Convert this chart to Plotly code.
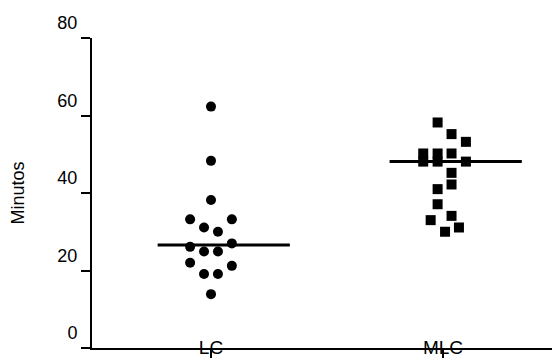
import numpy as np
import plotly.graph_objects as go

categories = ["LC", "MLC"]
lc_values = [62.3, 48.3, 38.2, 33.2, 33.2, 31.1, 30.0, 26.1, 27.0, 24.9, 24.9, 22.0, 21.2, 19.1, 19.1, 13.9]
lc_jitter = [0, 0, 0, -0.09, 0.09, -0.03, 0.03, -0.09, 0.09, -0.03, 0.03, -0.09, 0.09, -0.03, 0.03, 0]
mlc_values = [58.2, 55.2, 53.2, 50.2, 50.2, 50.2, 48.1, 48.1, 48.1, 45.2, 42.2, 41.0, 37.1, 34.1, 33.0, 31.1, 30.0]
mlc_jitter = [-0.023, 0.037, 0.099, -0.085, -0.023, 0.037, -0.085, -0.023, 0.099, 0.037, 0.037, -0.023, -0.023, 0.037, -0.053, 0.069, 0.009]
y_ticks = [0, 20, 40, 60, 80]

FONT = "Liberation Sans, Arial, sans-serif"

fig = go.Figure()
fig.add_trace(go.Scatter(
    x=[1 + j for j in lc_jitter], y=lc_values, mode="markers",
    marker=dict(symbol="circle", size=10, color="black"), showlegend=False, cliponaxis=False))
fig.add_trace(go.Scatter(
    x=[2 + j for j in mlc_jitter], y=mlc_values, mode="markers",
    marker=dict(symbol="square", size=10, color="black"), showlegend=False, cliponaxis=False))

for i, vals in enumerate([lc_values, mlc_values]):
    m = float(np.median(vals))
    c = i + 1
    fig.add_trace(go.Scatter(x=[c - 0.23, c + 0.34], y=[m, m], mode="lines",
                             line=dict(color="black", width=3), showlegend=False))

fig.update_layout(
    width=560, height=362,
    margin=dict(l=84, r=10, t=30, b=22),
    paper_bgcolor="white", plot_bgcolor="white",
    font=dict(family=FONT, color="black", size=18),
    xaxis=dict(range=[0.487, 2.496], tickmode="array", tickvals=[1, 2], ticktext=categories,
               showline=True, linecolor="black", linewidth=2, ticks="outside", ticklen=8,
               tickwidth=1.5, tickcolor="black", showgrid=False, zeroline=False,
               automargin=False, ticklabelstandoff=-27, tickfont=dict(size=19)),
    yaxis=dict(range=[0, 80], tickmode="array", tickvals=y_ticks,
               showline=True, linecolor="black", linewidth=2, ticks="outside", ticklen=9,
               tickwidth=1.5, tickcolor="black", showgrid=False, zeroline=False,
               automargin=False, ticklabelshift=-15, tickfont=dict(size=18),
               title=dict(text="Minutos", font=dict(size=18), standoff=36)),
)
fig.write_html("out.html")
